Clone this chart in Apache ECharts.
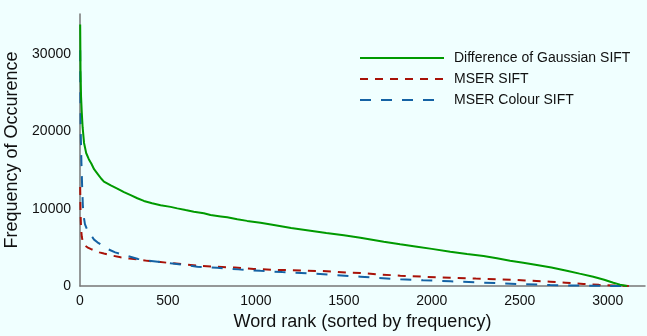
<!DOCTYPE html>
<html>
<head>
<meta charset="utf-8">
<script src="https://cdn.jsdelivr.net/npm/echarts@6/dist/echarts.min.js"></script>
<style>
html,body{margin:0;padding:0;background:#f0ffff;}
#chart{width:647px;height:336px;}
</style>
</head>
<body>
<div id="chart"></div>
<script>
const seriesNames = ['Difference of Gaussian SIFT', 'MSER SIFT', 'MSER Colour SIFT'];
const xTicks = [0, 500, 1000, 1500, 2000, 2500, 3000];
const yTicks = [0, 10000, 20000, 30000];

const dogRank = [1,3,6,10,15,23,35,50,65,80,100,120,136,175,212,250,288,326,363,410,458,515,553,600,647,704,742,800,837,894,950,1026,1102,1200,1310,1400,1500,1594,1727,1820,1916,2000,2105,2200,2294,2370,2445,2520,2597,2680,2767,2840,2918,2980,3032,3070,3110];
const dogFreq = [33800,28000,24500,22500,20500,18500,17200,16400,15800,15100,14500,13900,13500,13000,12600,12150,11750,11350,11000,10700,10450,10230,10040,9820,9610,9400,9180,9000,8880,8620,8420,8190,7900,7500,7150,6850,6550,6250,5730,5400,5080,4800,4440,4150,3880,3580,3270,3000,2720,2380,1980,1600,1200,800,430,180,0];

const mserRank = [1,3,6,10,15,25,42,60,80,110,136,180,231,280,326,383,439,500,610,685,780,880,988,1100,1200,1367,1450,1537,1594,1700,1821,1950,2105,2250,2389,2530,2673,2760,2862,2950,3030,3120];
const mserFreq = [12800,9500,7500,6400,5800,5300,5000,4800,4600,4350,4200,3950,3710,3550,3450,3250,3140,3000,2750,2600,2480,2380,2200,2100,2040,1940,1850,1720,1680,1500,1330,1200,1070,960,870,720,560,420,260,150,60,0];

const colourRank = [1,2,4,8,12,16,20,28,42,61,80,99,130,156,200,269,330,383,458,515,600,667,723,780,900,1026,1150,1310,1450,1537,1594,1700,1821,1950,2105,2250,2389,2530,2673,2800,2900,3000,3100];
const colourFreq = [30500,25000,20000,16000,13000,10500,9200,8000,7200,6600,6000,5650,5200,4800,4350,3880,3500,3300,3100,2930,2700,2500,2420,2350,2150,1960,1800,1640,1420,1280,1200,1030,870,740,610,480,350,230,130,60,30,10,0];

function pairs(xs, ys){ return xs.map((x,i)=>[x, ys[i]]); }

const FONT = 'Liberation Sans';
const chart = echarts.init(document.getElementById('chart'), null, {renderer:'canvas'});
chart.setOption({
  backgroundColor: '#f0ffff',
  animation: false,
  textStyle: {fontFamily: FONT},
  grid: {left: 80, right: 2, top: 14, bottom: 50, containLabel: false, outerBoundsMode: 'none'},
  legend: {
    orient: 'vertical',
    left: 359, top: 51,
    padding: 0,
    itemWidth: 84, itemHeight: 14, itemGap: 7,
    itemStyle: {opacity: 0},
    textStyle: {fontFamily: FONT, fontSize: 14, color: '#111', padding: [0,0,0,5]},
    data: seriesNames
  },
  xAxis: {
    type: 'value', min: 0, max: 3212, interval: 500,
    name: 'Word rank (sorted by frequency)', nameLocation: 'middle', nameGap: 27,
    nameTextStyle: {fontFamily: FONT, fontSize: 18, color: '#111'},
    axisLine: {show: true, lineStyle: {color: '#777', width: 1.5}},
    axisTick: {show: false},
    splitLine: {show: false},
    axisLabel: {
      fontFamily: FONT, fontSize: 14, color: '#111', margin: 8,
      formatter: v => xTicks.indexOf(v) >= 0 ? String(v) : ''
    }
  },
  yAxis: {
    type: 'value', min: 0, max: 35172, interval: 10000,
    name: 'Frequency of Occurence', nameLocation: 'middle', nameGap: 48,
    nameTextStyle: {fontFamily: FONT, fontSize: 18, color: '#111'},
    axisLine: {show: true, lineStyle: {color: '#777', width: 1.5}},
    axisTick: {show: false},
    splitLine: {show: false},
    axisLabel: {
      fontFamily: FONT, fontSize: 14, color: '#111', margin: 9,
      formatter: v => yTicks.indexOf(v) >= 0 ? String(v) : ''
    }
  },
  series: [
    {name: seriesNames[0], type: 'line', symbol: 'none', data: pairs(dogRank, dogFreq),
     lineStyle: {color: '#009a00', width: 2}, itemStyle: {color: '#009a00'}, z: 3},
    {name: seriesNames[1], type: 'line', symbol: 'none', data: pairs(mserRank, mserFreq),
     lineStyle: {color: '#a81208', width: 2, type: [8, 7]}, itemStyle: {color: '#a81208'}, z: 2},
    {name: seriesNames[2], type: 'line', symbol: 'none', data: pairs(colourRank, colourFreq),
     lineStyle: {color: '#1462a4', width: 2, type: [11, 10]}, itemStyle: {color: '#1462a4'}, z: 2}
  ]
});
</script>
</body>
</html>
